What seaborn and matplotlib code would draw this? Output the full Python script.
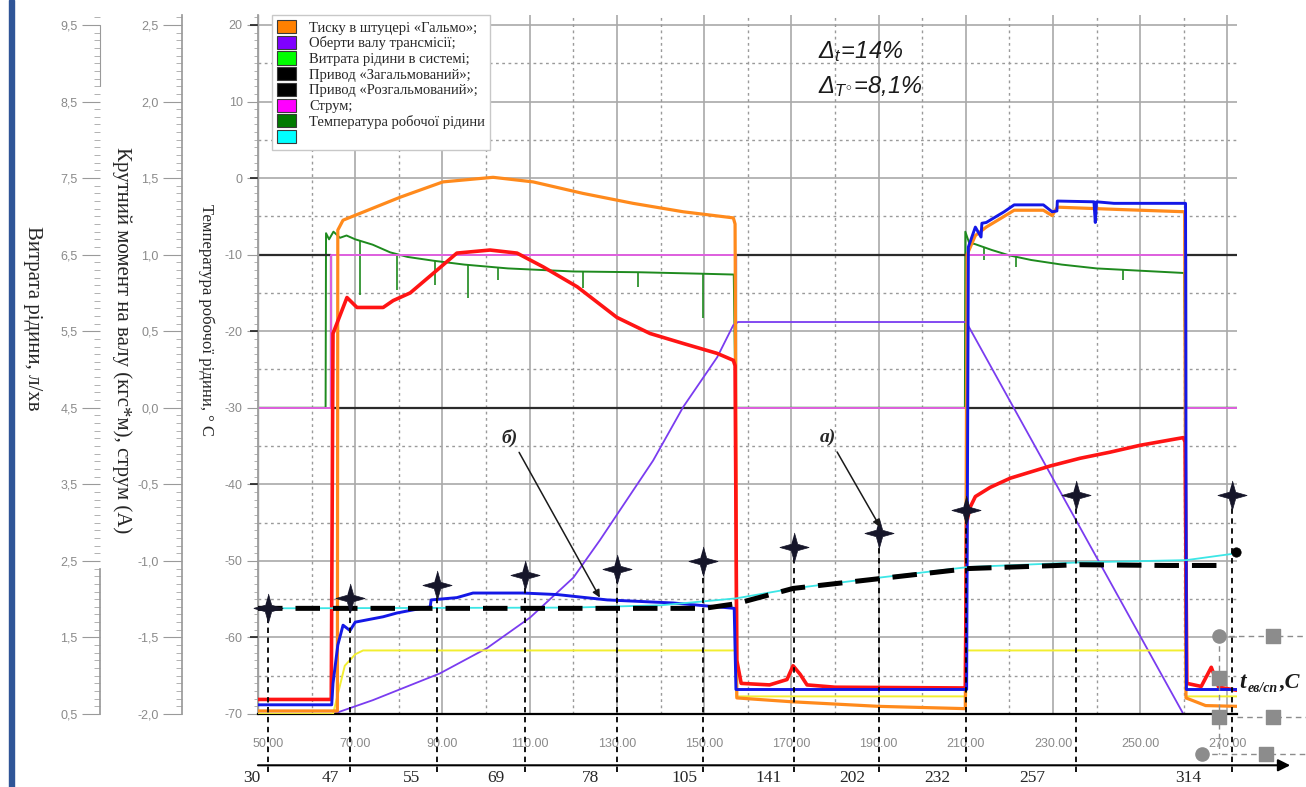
import matplotlib
matplotlib.use("Agg")
import matplotlib.pyplot as plt
import seaborn as sns
from matplotlib.patches import Patch, Rectangle
from matplotlib.lines import Line2D
from matplotlib.ticker import MultipleLocator, FixedLocator, FuncFormatter
import matplotlib.transforms as mtransforms

# ---------------- data ----------------
# time (s) on the x axis, every curve expressed on the temperature scale
pressure_t = [47.7, 65.9, 66.0, 67.2, 80.3, 90.1, 101.6, 110.8, 122.2, 133.7,
              145.2, 156.7, 157.1, 157.5, 170.0, 190.0, 209.9, 210.3, 212.2, 214.7,
              218.8, 221.1, 227.8, 229.8, 231.0, 245.0, 260.2, 260.5, 265.0, 272.2]
pressure_v = [-69.6, -69.6, -6.8, -5.5, -2.5, -0.5, 0.1, -0.5, -2.0, -3.3,
              -4.4, -5.2, -6.0, -67.9, -68.4, -69.0, -69.3, -10.0, -7.5, -6.4,
              -5.0, -4.2, -4.2, -4.9, -3.8, -4.1, -4.4, -67.9, -68.9, -69.0]

blue_t = [47.7, 64.6, 64.9, 66.0, 67.2, 68.8, 70.0, 76.4, 79.6, 83.3,
          87.2, 87.4, 93.3, 97.0, 108.5, 116.3, 127.8, 142.9, 156.9, 157.3,
          210.2, 210.6, 212.2, 213.5, 213.7, 214.7, 218.8, 221.1, 227.8, 229.8,
          230.9, 231.0, 239.4, 239.7, 240.0, 244.0, 260.4, 260.6, 272.2]
blue_v = [-68.8, -68.8, -66.0, -61.0, -58.4, -59.1, -58.0, -57.3, -56.8, -56.4,
          -56.0, -55.1, -54.8, -54.2, -54.2, -54.4, -55.1, -55.5, -56.2, -66.8,
          -66.8, -9.0, -6.4, -7.7, -5.9, -5.8, -4.4, -3.5, -3.5, -4.4,
          -4.3, -3.0, -3.1, -5.8, -3.1, -3.3, -3.3, -66.8, -66.8]

red_t = [47.7, 64.5, 64.9, 68.1, 70.4, 76.4, 78.7, 82.6, 88.8, 93.3,
         100.9, 107.1, 113.1, 120.9, 130.0, 137.6, 145.2, 153.0, 156.7, 157.1,
         157.5, 158.5, 165.0, 169.0, 170.4, 172.0, 173.6, 180.0, 209.9, 210.2,
         211.0, 212.2, 215.6, 220.2, 224.8, 229.4, 236.2, 243.1, 250.0, 256.9,
         259.9, 260.3, 260.7, 264.0, 266.3, 268.0, 272.2]
red_v = [-68.1, -68.1, -20.3, -15.6, -16.9, -16.9, -16.0, -15.0, -12.0, -9.8,
         -9.4, -9.8, -11.6, -14.2, -18.2, -20.3, -21.6, -22.9, -23.8, -24.5,
         -63.0, -66.0, -66.2, -65.5, -63.7, -64.8, -66.2, -66.5, -66.6, -45.0,
         -43.0, -41.6, -40.4, -39.2, -38.4, -37.6, -36.6, -35.8, -34.9, -34.2,
         -33.9, -34.5, -66.0, -66.4, -63.9, -66.5, -66.9]

speed_t = [47.7, 64.9, 74.0, 89.4, 100.2, 110.1, 120.0, 126.1, 138.3, 145.2,
           153.0, 156.7, 157.8, 210.1, 259.9, 272.2]
speed_v = [-70, -70, -68.2, -64.7, -61.4, -57.4, -52.2, -47.3, -36.9, -29.9,
           -23.4, -19.2, -18.8, -18.8, -70, -70]

yellow_t = [47.7, 64.9, 67.6, 70.0, 71.8, 157.2, 157.4, 210.1, 210.3, 260.3, 260.5, 272.2]
yellow_v = [-70, -70, -63.7, -62.2, -61.7, -61.7, -67.7, -67.7, -61.7, -61.7, -67.7, -67.7]

temp_t = [47.7, 63.2, 63.3, 64.0, 65.0, 66.5, 68.0, 70.0, 74.0, 78.0,
          82.0, 88.0, 95.0, 105.0, 120.0, 135.0, 150.0, 156.8, 157.2, 209.8,
          209.9, 210.8, 212.0, 214.0, 216.0, 220.0, 225.0, 232.0, 240.0, 250.0,
          260.1, 260.4, 272.2]
temp_v = [-30, -30, -7.2, -8.0, -7.0, -7.8, -7.5, -8.0, -8.7, -9.7,
          -10.3, -10.8, -11.3, -11.8, -12.2, -12.3, -12.5, -12.6, -30, -30,
          -7.0, -8.5, -8.6, -9.0, -9.4, -10.1, -10.7, -11.3, -11.8, -12.1,
          -12.4, -30, -30]
spike_t = [71.1, 79.6, 88.3, 95.9, 102.8, 122.2, 134.9, 149.8, 214.2, 221.6, 246.1]
spike_top = [-8.2, -9.9, -10.8, -11.3, -11.6, -12.2, -12.3, -12.5, -9.0, -10.2, -11.9]
spike_bottom = [-15.3, -14.6, -14.0, -15.7, -13.3, -14.4, -14.2, -18.3, -10.7, -11.6, -13.3]

drive_t = [47.7, 64.5, 64.5, 157.3, 157.3, 210.2, 210.2, 260.5, 260.5, 272.2]
drive_v = [-10, -10, -30, -30, -10, -10, -30, -30, -10, -10]
current_v = [-30, -30, -10, -10, -30, -30, -10, -10, -30, -30]

cyan_t = [47.7, 120.0, 140.0, 157.3, 170.4, 190.0, 210.6, 236.0, 260.6, 272.2]
cyan_v = [-56.2, -56.1, -55.8, -54.9, -53.6, -52.2, -50.8, -50.2, -49.9, -49.0]

approx_t = [47.7, 150.0, 157.3, 170.4, 190.5, 210.7, 236.1, 256.0, 269.5]
approx_v = [-56.2, -56.2, -55.6, -53.6, -52.3, -51.0, -50.5, -50.6, -50.6]
approx_end_t = [272.0]
approx_end_v = [-48.9]

star_t = [50.0, 68.8, 88.7, 108.9, 130.1, 149.8, 170.5, 190.1, 210.1, 235.3, 271.1]
star_v = [-56.2, -54.9, -53.2, -51.9, -51.0, -50.0, -48.2, -46.3, -43.4, -41.4, -41.4]

time2_labels = ["30", "47", "55", "69", "78", "105", "141", "202", "232", "257", "314"]
time2_pos = [46.3, 64.2, 82.8, 102.3, 123.9, 145.4, 164.7, 183.9, 203.4, 225.2, 261.0]

x_ticks = [50, 70, 90, 110, 130, 150, 170, 190, 210, 230, 250, 270]
temp_ticks = [20, 10, 0, -10, -20, -30, -40, -50, -60, -70]
flow_ticks = [9.5, 8.5, 7.5, 6.5, 5.5, 4.5, 3.5, 2.5, 1.5, 0.5]
torque_ticks = [2.5, 2.0, 1.5, 1.0, 0.5, 0.0, -0.5, -1.0, -1.5, -2.0]

legend_labels = ["Тиску в штуцері «Гальмо»;", "Оберти валу трансмісії;",
                 "Витрата рідини в системі;", "Привод «Загальмований»;",
                 "Привод «Розгальмований»;", "Струм;",
                 "Температура робочої рідини", ""]
legend_colors = ["#FF8000", "#7F00FF", "#00FF00", "#000000", "#000000",
                 "#FF00FF", "#007A00", "#00FFFF"]

# ---------------- style ----------------
sns.set_theme(style="white")
plt.rcParams["font.family"] = ["Liberation Sans", "DejaVu Sans"]
plt.rcParams["mathtext.fontset"] = "custom"
plt.rcParams["mathtext.it"] = "Liberation Sans:italic"
plt.rcParams["mathtext.rm"] = "Liberation Sans:italic"
plt.rcParams["mathtext.default"] = "it"

W, H = 1306, 787
fig = plt.figure(figsize=(W / 100, H / 100), dpi=100, facecolor="white")
L, R, T, B = 258, 1237, 15, 714
ax = fig.add_axes([L / W, 1 - B / H, (R - L) / W, (B - T) / H])
XMIN, XMAX = 47.7, 272.2
YMIN, YMAX = -70, 21.3
ax.set_xlim(XMIN, XMAX)
ax.set_ylim(YMIN, YMAX)
ax.set_facecolor("white")

# grid
for g in range(-60, 21, 10):
    ax.axhline(g, color="#a9a9a9", lw=1.2, zorder=0.5)
for g in range(-65, 16, 10):
    ax.axhline(g, color="#9a9a9a", lw=1.0, ls=(0, (2, 2.5)), zorder=0.5)
for g in range(70, 271, 20):
    ax.axvline(g, color="#a9a9a9", lw=1.2, zorder=0.5)
for g in range(60, 261, 20):
    ax.axvline(g, color="#9a9a9a", lw=1.0, ls=(0, (2, 2.5)), zorder=0.5)


def line(t, v, color, lw, z, **kw):
    sns.lineplot(x=t, y=v, ax=ax, color=color, linewidth=lw, estimator=None,
                 sort=False, zorder=z, **kw)


line(temp_t, temp_v, "#1E8A1E", 1.4, 1.5)
ax.vlines(spike_t, spike_bottom, spike_top, colors="#1E8A1E", lw=1.2, zorder=1.5)
line(drive_t, drive_v, "#2b2b2b", 1.6, 2.0)
line(drive_t, current_v, "#E060E0", 1.4, 2.1)
line(speed_t, speed_v, "#7A3CF0", 1.3, 2.5)
line(yellow_t, yellow_v, "#F2EE30", 1.4, 2.6)
line(pressure_t, pressure_v, "#FF8A1C", 2.3, 3.0)
line(red_t, red_v, "#FF1414", 2.6, 3.2)
line(blue_t, blue_v, "#1418E6", 2.1, 3.4)
line(cyan_t, cyan_v, "#3CE6E6", 1.3, 3.6)
line(approx_t, approx_v, "#000000", 3.6, 4.0, linestyle=(0, (4.9, 2.6)))
sns.scatterplot(x=approx_end_t, y=approx_end_v, ax=ax, color="black", s=45,
                marker="o", edgecolor="black", zorder=4.1, clip_on=False)

# drops from stars to the second time axis
ax.vlines(star_t, -77.6, star_v, colors="black", lw=1.3,
          linestyles=(0, (3, 2.5)), zorder=4.2, clip_on=False)
star_marker = [(0, 1), (0.22, 0.22), (1, 0), (0.22, -0.22), (0, -1),
               (-0.22, -0.22), (-1, 0), (-0.22, 0.22)]
sns.scatterplot(x=star_t, y=star_v, ax=ax, marker=star_marker, s=440,
                color="#16162a", edgecolor="#16162a", linewidth=0.5,
                zorder=5, clip_on=False)

# second (event) time axis
ax.annotate("", xy=(284.4, -76.7), xytext=(XMIN, -76.7), xycoords="data",
            arrowprops=dict(arrowstyle="-|>", color="black", lw=1.5,
                            mutation_scale=18, shrinkA=0, shrinkB=0),
            annotation_clip=False)
for lab, pos in zip(time2_labels, time2_pos):
    ax.text(pos, -78.3, lab, ha="center", va="center", fontsize=12.5,
            family="Liberation Serif", clip_on=False)

# annotations
ann_kw = dict(fontsize=14, fontweight="bold", fontstyle="italic",
              family="Liberation Serif", ha="center", va="center", zorder=6)
ax.annotate("б)", xy=(126.1, -54.8), xytext=(105.5, -33.9),
            arrowprops=dict(arrowstyle="-|>", color="#1a1a1a", lw=1.1,
                            mutation_scale=11, shrinkB=0, relpos=(0.8, 0.1)),
            **ann_kw)
ax.annotate("а)", xy=(190.4, -45.6), xytext=(178.4, -33.9),
            arrowprops=dict(arrowstyle="-|>", color="#1a1a1a", lw=1.1,
                            mutation_scale=11, shrinkB=0, relpos=(0.8, 0.1)),
            **ann_kw)

# spines and ticks of the main (temperature) scale
for s in ["top", "right"]:
    ax.spines[s].set_visible(False)
ax.spines["bottom"].set_color("black")
ax.spines["bottom"].set_linewidth(1.6)
ax.spines["left"].set_color("#a0a0a0")
ax.spines["left"].set_linewidth(1.0)

ax.xaxis.set_major_locator(FixedLocator(x_ticks))
ax.xaxis.set_major_formatter(FuncFormatter(lambda v, _: f"{v:.2f}"))
ax.xaxis.set_minor_locator(MultipleLocator(2))
ax.tick_params(axis="x", which="major", direction="out", length=4, width=0.8,
               color="#888888", labelcolor="#8a8a8a", labelsize=9, pad=13)
ax.tick_params(axis="x", which="minor", direction="out", length=3, width=0.6,
               color="#999999")
ax.set_xlabel("")
ax.set_ylabel("")


def make_side_axis(offset, lim, ticks, fmt, minor, major_len):
    a = ax.twinx()
    a.set_ylim(*lim)
    for s in ["right", "top", "bottom"]:
        a.spines[s].set_visible(False)
    a.spines["left"].set_visible(True)
    a.spines["left"].set_position(("axes", offset))
    a.spines["left"].set_color("#9a9a9a")
    a.yaxis.set_ticks_position("left")
    a.yaxis.set_major_locator(FixedLocator(ticks))
    a.yaxis.set_major_formatter(FuncFormatter(fmt))
    a.yaxis.set_minor_locator(MultipleLocator(minor))
    a.tick_params(axis="y", which="major", direction="out", length=major_len,
                  width=0.8, color="#9a9a9a", labelcolor="#8a8a8a",
                  labelsize=9, pad=3)
    a.tick_params(axis="y", which="minor", direction="out", length=4,
                  width=0.6, color="#a5a5a5")
    return a


comma = lambda v, _: f"{round(v, 1) + 0.0:.1f}".replace(".", ",")
ax_t = make_side_axis(0.0, (YMIN, YMAX), temp_ticks,
                      lambda v, _: f"{int(round(v))}", 1, 8)
ax_t.tick_params(axis="y", which="minor", direction="inout", length=6)
ax.tick_params(axis="y", which="both", left=False, labelleft=False)
ax_flow = make_side_axis((100 - L) / (R - L), ((YMIN + 75) / 10, (YMAX + 75) / 10),
                         flow_ticks, comma, 0.1, 13)
ax_flow.spines["left"].set_bounds(0.5, 2.4)
trans = mtransforms.blended_transform_factory(ax_flow.transAxes, ax_flow.transData)
ax_flow.add_line(Line2D([(100 - L) / (R - L)] * 2, [8.7, 9.5], transform=trans,
                        color="#9a9a9a", lw=0.8, clip_on=False))
ax_flow.set_ylim((YMIN + 75) / 10, (YMAX + 75) / 10)
ax_tq = make_side_axis((182 - L) / (R - L), (YMIN / 20 + 1.5, YMAX / 20 + 1.5),
                       torque_ticks, comma, 0.05, 14)

# legend
handles = [Patch(facecolor=c, edgecolor="#3a3a3a", linewidth=0.8) for c in legend_colors]
leg = ax.legend(handles, legend_labels, loc="upper left",
                bbox_to_anchor=((272 - L) / (R - L), 1.0), borderaxespad=0,
                frameon=True, fancybox=False, framealpha=1, edgecolor="#c8c8c8",
                prop=dict(family="Liberation Serif", size=10.5),
                handlelength=1.3, handleheight=1.0, handletextpad=0.9,
                labelspacing=0.08, borderpad=0.35)
leg.set_zorder(20)
ax.set_zorder(2)
ax_t.set_zorder(1)

# ---------------- overlay for page decorations (pixel coordinates) ----------------
ov = fig.add_axes([0, 0, 1, 1])
ov.set_xlim(0, W)
ov.set_ylim(H, 0)
ov.axis("off")
ov.patch.set_visible(False)
ov.set_zorder(30)

ov.add_patch(Rectangle((9, 0), 5, H, color="#2F5597"))
serif = "Liberation Serif"
ov.text(32, 318, "Витрата рідини, л/хв", rotation=270, ha="center", va="center",
        fontsize=15, family=serif)
ov.text(122, 340, "Крутний момент на валу (кгс*м), струм (А)", rotation=270,
        ha="center", va="center", fontsize=15, family=serif)
ov.text(206, 320, "Температура робочої рідини, ° С", rotation=270,
        ha="center", va="center", fontsize=12, family=serif)

ov.text(818, 52, r"$\mathit{\Delta_t\!=\!14\%}$", fontsize=17, ha="left",
        va="center", color="#1a1a1a")
ov.text(818, 87, r"$\mathit{\Delta_{T^{\circ}}\!=\!8{,}1\%}$", fontsize=17,
        ha="left", va="center", color="#1a1a1a")

bi = dict(family=serif, fontweight="bold", fontstyle="italic", color="#1a1a1a")
ov.text(1239, 688, "t", fontsize=17, ha="left", va="baseline", **bi)
ov.text(1248, 692, "ев/сп", fontsize=10, ha="left", va="baseline", **bi)
ov.text(1279, 688, ",С", fontsize=16, ha="left", va="baseline", **bi)

hc = "#8c8c8c"
for xs, ys in [([1219, 1306], [636, 636]), ([1237, 1306], [717, 717]),
               ([1202, 1306], [754, 754]), ([1219, 1219], [636, 754])]:
    ov.plot(xs, ys, color=hc, lw=1.0, ls=(0, (4, 3)))
ov.scatter([1219, 1202], [636, 754], s=90, marker="o", color=hc, zorder=5)
ov.scatter([1273, 1219, 1219, 1273, 1266], [636, 678, 717, 717, 754], s=90,
           marker="s", color=hc, zorder=5)

fig.savefig("out.png", dpi=100, facecolor="white")
